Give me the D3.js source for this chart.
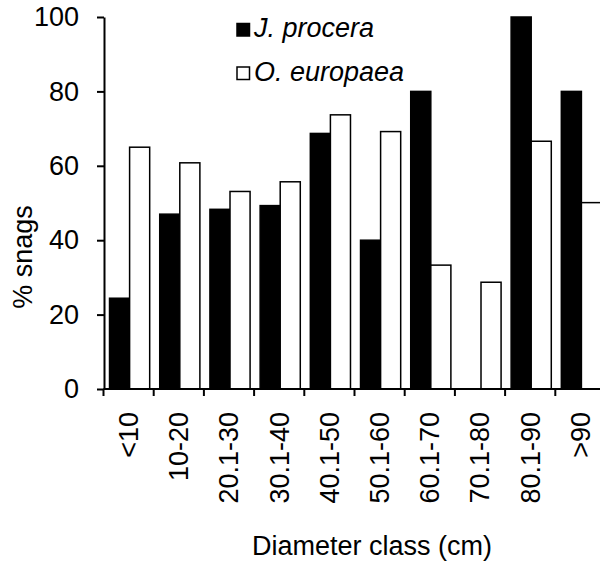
<!DOCTYPE html>
<html>
<head>
<meta charset="utf-8">
<script src="https://cdn.jsdelivr.net/npm/d3@7"></script>
<style>
  body { margin: 0; background: #fff; }
  text { font-family: "Liberation Sans", Arial, sans-serif; fill: #000; }
  .axis path, .axis line { stroke: #000; stroke-width: 2px; }
  .axis text { font-size: 27px; }
</style>
</head>
<body>
<script>

    // diameter classes (cm)
    var classes = ["<10", "10-20", "20.1-30", "30.1-40", "40.1-50", "50.1-60", "60.1-70", "70.1-80", "80.1-90", ">90"];
    // % snags per species
    var procera = [24.4, 47.0, 48.3, 49.3, 68.7, 40.0, 80.0, 0, 100.0, 80.0];
    var europaea = [65.0, 60.8, 53.1, 55.7, 73.7, 69.2, 33.3, 28.7, 66.6, 50.1];
    var species = ["J. procera", "O. europaea"];
    var fills = ["#000", "#fff"];
    var yTicks = [0, 20, 40, 60, 80, 100];

    var width = 600, height = 562;

    var svg = d3.select("body").append("svg")
        .attr("width", width)
        .attr("height", height);

    var x = d3.scaleBand().domain(classes).range([103.5, 605.5]).padding(0);
    var xs = d3.scaleBand().domain(species).range([0, x.bandwidth()])
        .paddingOuter(0.25).align(0.6);
    var y = d3.scaleLinear().domain([0, 100]).range([389, 17]);

    var rows = classes.map(function(c, i) {
      return {cls: c, vals: [procera[i], europaea[i]]};
    });

    // bars
    var groups = svg.append("g").selectAll("g")
      .data(rows)
      .enter().append("g")
      .attr("transform", function(d) { return "translate(" + x(d.cls) + ",0)"; });

    groups.selectAll("rect")
      .data(function(d) { return d.vals.map(function(v, k) { return {sp: species[k], v: v, k: k}; }); })
      .enter().append("rect")
      .filter(function(d) { return d.v > 0; })
      .attr("x", function(d) { return xs(d.sp); })
      .attr("width", xs.bandwidth())
      .attr("y", function(d) { return y(d.v); })
      .attr("height", function(d) { return y(0) - y(d.v); })
      .style("fill", function(d) { return fills[d.k]; })
      .style("stroke", "#000")
      .style("stroke-width", 1.5);

    // y axis
    svg.append("g")
      .attr("class", "axis")
      .attr("transform", "translate(104,0)")
      .call(d3.axisLeft(y).tickValues(yTicks).tickSize(7).tickSizeOuter(0).tickPadding(18));

    // x axis: line with ticks on class boundaries
    var xa = svg.append("g").attr("class", "axis");
    xa.append("line")
      .attr("x1", 103.5).attr("x2", width)
      .attr("y1", y(0)).attr("y2", y(0));
    xa.selectAll("line.tick")
      .data(classes)
      .enter().append("line")
      .attr("class", "tick")
      .attr("x1", function(d) { return x(d); })
      .attr("x2", function(d) { return x(d); })
      .attr("y1", y(0)).attr("y2", y(0) + 7);
    xa.selectAll("text")
      .data(classes)
      .enter().append("text")
      .attr("transform", function(d) {
        return "translate(" + (x(d) + x.bandwidth() / 2) + ",412) rotate(-90)";
      })
      .attr("text-anchor", "end")
      .attr("dy", "0.35em")
      .text(function(d) { return d; });

    // axis titles
    svg.append("text")
      .attr("transform", "translate(32,257) rotate(-90)")
      .attr("text-anchor", "middle")
      .style("font-size", "27px")
      .text("% snags");

    svg.append("text")
      .attr("x", 372).attr("y", 555)
      .attr("text-anchor", "middle")
      .style("font-size", "27px")
      .text("Diameter class (cm)");

    // legend
    var legend = svg.append("g").attr("transform", "translate(237,0)")
      .selectAll("g")
      .data(species)
      .enter().append("g")
      .attr("transform", function(d, i) { return "translate(0," + (i * 43.5) + ")"; });

    legend.append("rect")
      .attr("x", 0).attr("y", 23.5)
      .attr("width", 12.5).attr("height", 12.5)
      .style("fill", function(d, i) { return fills[i]; })
      .style("stroke", "#000")
      .style("stroke-width", 1.5);

    legend.append("text")
      .attr("x", 17).attr("y", 37)
      .style("font-size", "27px")
      .style("font-style", "italic")
      .text(function(d) { return d; });

</script>
</body>
</html>
